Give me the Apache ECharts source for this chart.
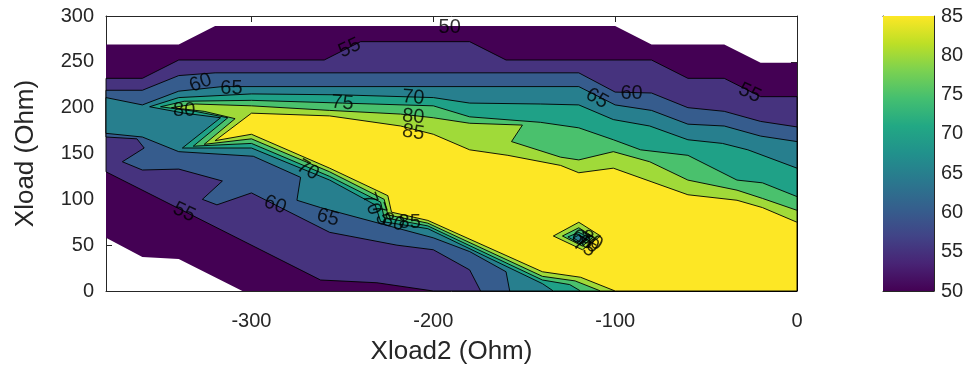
<!DOCTYPE html>
<html>
<head>
<meta charset="utf-8">
<script src="https://cdn.jsdelivr.net/npm/echarts@6/dist/echarts.min.js"></script>
<style>
  html, body { margin: 0; padding: 0; background: #fff; }
  #chart { width: 978px; height: 368px; }
</style>
</head>
<body>
<div id="chart"></div>
<script>
// contour levels and the viridis colour used for each filled band
const levels = [50, 55, 60, 65, 70, 75, 80, 85];
const levelColors = ['#440154', '#46337e', '#365c8d', '#277f8e', '#1fa187', '#4ac16d', '#a0da39', '#fde725'];
const xTicks = [-300, -200, -100, 0];
const colorbarTicks = [50, 55, 60, 65, 70, 75, 80, 85];
const viridisStops = ['#440154', '#482475', '#414487', '#355f8d', '#2a788e', '#21918c', '#22a884', '#44bf70', '#7ad151', '#bddf26', '#fde725'];

// regions where efficiency >= level, vertices as [Xload2, Xload]
const region50 = [[-380, 269], [-340, 269], [-320, 289], [-100, 289], [-80, 269], [-40, 269], [-20, 249], [0, 249],
  [0, 0], [-305, 0], [-340, 35], [-360, 37], [-380, 58]];
const region55 = [[-380, 232], [-360, 232], [-340, 252], [-260, 252], [-240, 272], [-180, 272], [-160, 252], [-80, 252],
  [-60, 232], [-40, 232], [-20, 212], [0, 212], [0, 0], [-200, 0], [-231, 9], [-262, 12], [-380, 130]];
const region60 = [[-380, 219], [-360, 219], [-340, 235], [-320, 238], [-120, 238], [-100, 217], [-80, 216], [-60, 200],
  [-40, 196], [-20, 185], [0, 179], [0, 0], [-174, 0], [-180, 23], [-200, 45], [-220, 50], [-257, 64], [-300, 107],
  [-319, 94], [-327, 100], [-316, 120], [-340, 133], [-360, 132], [-371, 141], [-359, 156], [-363, 166], [-380, 168]];
const region65 = [[-380, 211], [-360, 203], [-340, 218], [-316, 223], [-120, 223], [-100, 203], [-80, 197], [-60, 182],
  [-40, 180], [-20, 169], [0, 163], [0, 0], [-158, 0], [-160, 21], [-180, 43], [-200, 58], [-262, 91], [-275, 99],
  [-273, 124], [-299, 147], [-340, 152], [-360, 168], [-380, 172]];
const region70 = [[0, 134], [-27, 154], [-41, 161], [-60, 165], [-81, 180], [-101, 187], [-120, 203], [-141, 204],
  [-180, 205], [-200, 211], [-251, 214], [-300, 215], [-340, 211], [-356, 201], [-337, 194], [-317, 189], [-338, 156],
  [-300, 156], [-257, 121], [-232, 94], [-229, 76], [-203, 68], [-140, 8], [-134, 0], [0, 0]];
const region75 = [[0, 103], [-19, 118], [-33, 121], [-60, 148], [-86, 154], [-101, 165], [-120, 178], [-141, 184],
  [-180, 190], [-200, 202], [-250, 205], [-300, 208], [-337, 207], [-350, 201], [-331, 196], [-313, 189], [-332, 158],
  [-300, 161], [-257, 125], [-229, 97], [-227, 80], [-203, 71], [-140, 12], [-125, 7], [-119, 0], [0, 0]];
const region80 = [[0, 88], [-19, 101], [-33, 110], [-60, 121], [-81, 141], [-101, 152], [-120, 143], [-130, 146],
  [-157, 163], [-151, 181], [-180, 183], [-200, 189], [-218, 193], [-257, 197], [-300, 202], [-331, 204], [-344, 200],
  [-326, 196], [-309, 188], [-326, 160], [-300, 166], [-257, 130], [-227, 100], [-225, 83], [-203, 74], [-140, 16],
  [-122, 11], [-108, 0], [0, 0]];
const region85 = [[0, 75], [-19, 91], [-33, 99], [-60, 105], [-101, 134], [-120, 129], [-130, 137], [-159, 148],
  [-180, 154], [-200, 171], [-218, 180], [-257, 191], [-300, 194], [-320, 164], [-300, 171], [-257, 134], [-225, 104],
  [-223, 86], [-203, 77], [-140, 21], [-119, 15], [-100, 0], [0, 0]];

// small dip inside the 85 region, efficiency below level
const dip85 = [[-134, 60], [-120, 75], [-108, 60], [-118, 45]];
const dip80 = [[-129, 60], [-120, 69], [-112, 59], [-118, 49]];
const dip75 = [[-126, 59], [-120, 64], [-114, 58], [-119, 51]];
const dip70 = [[-123, 58], [-120, 61], [-116, 57], [-119, 53]];

// contour labels
const labelText = ['50', '55', '60', '65', '80', '75', '70', '80', '85', '65', '60', '55',
  '55', '60', '65', '70', '70', '75', '80', '85', '65', '70', '75', '80'];
const labelX = [-191, -246, -328, -311, -337, -250, -211, -211, -211, -110, -91, -26,
  -337, -287, -258, -269, -234, -229, -222, -213, -118, -115, -117, -113];
const labelY = [287, 265, 227, 221, 197, 205, 211, 190, 173, 210, 216, 216,
  86, 94, 80, 132, 95, 84, 75, 75, 56, 52, 48, 55];
const labelRot = [0, 25, 20, 0, 0, -5, -5, -5, -8, -30, 0, -25,
  -25, -20, -15, -30, -70, -70, -20, 0, -30, -30, -30, -30];

const regions = [region50, region55, region60, region65, region70, region75, region80, region85];
const dips = [dip85, dip80, dip75, dip70];

const shapes = [];
regions.forEach((poly, i) => shapes.push({ poly, color: levelColors[i], edge: i > 0 }));
dips.forEach((poly, i) => shapes.push({ poly, color: levelColors[6 - i], edge: true }));

const FONT = 'Liberation Sans, Arial, sans-serif';
const AXIS_COLOR = '#262626';

const chart = echarts.init(document.getElementById('chart'), null, { renderer: 'canvas' });

function frameAxis(extra) {
  return Object.assign({
    type: 'value',
    splitLine: { show: false },
    axisLine: { show: true, onZero: false, lineStyle: { color: AXIS_COLOR, width: 1 } },
    axisTick: { show: true, inside: true, length: 6, lineStyle: { color: AXIS_COLOR } },
    axisLabel: { show: false }
  }, extra);
}

const tickLabel = { color: AXIS_COLOR, fontSize: 20, fontFamily: FONT };
const nameStyle = { color: AXIS_COLOR, fontSize: 26, fontFamily: FONT };

chart.setOption({
  animation: false,
  backgroundColor: '#fff',
  grid: [
    { left: 106, top: 16, width: 691, height: 275, outerBoundsMode: 'none', containLabel: false },
    { left: 883, top: 16, width: 51, height: 275, outerBoundsMode: 'none', containLabel: false }
  ],
  xAxis: [
    frameAxis({
      gridIndex: 0, position: 'bottom', min: -380, max: 0,
      axisTick: { show: true, inside: true, length: 6, customValues: xTicks, lineStyle: { color: AXIS_COLOR } },
      axisLabel: Object.assign({ show: true, margin: 20, customValues: xTicks }, tickLabel),
      name: 'Xload2 (Ohm)', nameLocation: 'middle', nameGap: 48, nameTextStyle: nameStyle
    }),
    frameAxis({
      gridIndex: 0, position: 'top', min: -380, max: 0,
      axisTick: { show: true, inside: true, length: 6, customValues: xTicks, lineStyle: { color: AXIS_COLOR } }
    }),
    frameAxis({ gridIndex: 1, position: 'bottom', min: 0, max: 1, axisTick: { show: false } }),
    frameAxis({ gridIndex: 1, position: 'top', min: 0, max: 1, axisTick: { show: false } })
  ],
  yAxis: [
    frameAxis({
      gridIndex: 0, position: 'left', min: 0, max: 300, interval: 50,
      axisLabel: Object.assign({ show: true, margin: 12 }, tickLabel),
      name: 'Xload (Ohm)', nameLocation: 'middle', nameGap: 67, nameTextStyle: nameStyle
    }),
    frameAxis({ gridIndex: 0, position: 'right', min: 0, max: 300, interval: 50 }),
    frameAxis({
      gridIndex: 1, position: 'right', min: 50, max: 85, interval: 5,
      axisTick: { show: true, inside: true, length: 4, lineStyle: { color: AXIS_COLOR } },
      axisLabel: Object.assign({ show: true, margin: 7 }, tickLabel)
    }),
    frameAxis({
      gridIndex: 1, position: 'left', min: 50, max: 85, interval: 5,
      axisTick: { show: true, inside: true, length: 4, lineStyle: { color: AXIS_COLOR } }
    })
  ],
  series: [
    {
      type: 'custom',
      xAxisIndex: 0, yAxisIndex: 0,
      silent: true,
      data: shapes.map((s, i) => [-190, 150, i]),
      renderItem: function (params, api) {
        const s = shapes[params.dataIndex];
        return {
          type: 'polygon',
          shape: { points: s.poly.map((p) => api.coord(p)) },
          style: {
            fill: s.color,
            stroke: s.edge ? '#000' : null,
            lineWidth: s.edge ? 0.9 : 0,
            lineJoin: 'round'
          }
        };
      },
      z: 2
    },
    {
      type: 'scatter',
      xAxisIndex: 0, yAxisIndex: 0,
      silent: true,
      symbolSize: 1,
      itemStyle: { color: 'transparent' },
      label: {
        show: true, position: 'inside', formatter: '{b}',
        color: '#000', fontSize: 20, fontFamily: FONT
      },
      data: labelText.map((t, i) => ({
        name: t, value: [labelX[i], labelY[i]], label: { rotate: labelRot[i] }
      })),
      z: 5
    },
    {
      type: 'custom',
      xAxisIndex: 2, yAxisIndex: 2,
      silent: true,
      data: [[0.5, 67.5]],
      renderItem: function (params, api) {
        const lo = api.coord([0, colorbarTicks[0]]);
        const hi = api.coord([1, colorbarTicks[colorbarTicks.length - 1]]);
        const stops = viridisStops.map((c, i) => ({ offset: i / (viridisStops.length - 1), color: c }));
        return {
          type: 'rect',
          shape: { x: lo[0], y: hi[1], width: hi[0] - lo[0], height: lo[1] - hi[1] },
          style: { fill: new echarts.graphic.LinearGradient(0, 1, 0, 0, stops) }
        };
      },
      z: 2
    }
  ]
});
</script>
</body>
</html>
